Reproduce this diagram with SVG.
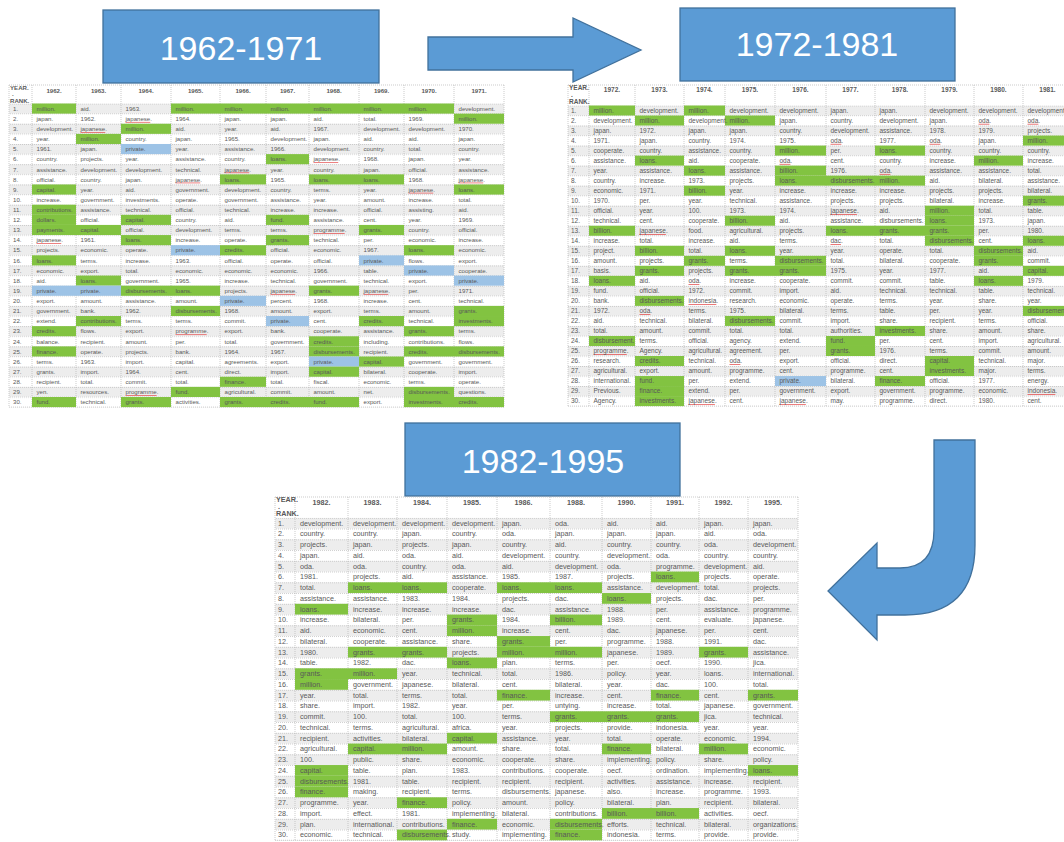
<svg xmlns="http://www.w3.org/2000/svg" width="1064" height="842" viewBox="0 0 1064 842">
<style>
.tb text{font-family:"Liberation Sans",Arial,sans-serif;fill:#595959}
#table-1962 text{font-size:6.1px}
#table-1972 text{font-size:6.5px}
#table-1982 text{font-size:7.2px}
.tb text.r{font-size:8px}
.tb text.h{font-weight:bold;text-anchor:middle}
.tb text.k{font-size:5px;font-weight:bold}
.g{fill:#82c341}
.b{fill:#9dc3e6}
.u{text-decoration:underline;fill:#e03030;text-decoration-color:#e03030}
.tb text .w{fill:#595959}
.grid{fill:none;stroke:#b4b4b4;stroke-width:0.7;stroke-dasharray:1 1}
.box{fill:#5b9bd5;stroke:#41719c;stroke-width:1.3}
.bt{font-family:"Liberation Sans",Arial,sans-serif;font-size:34px;fill:#fff;text-anchor:middle}
</style>
<defs>
<pattern id="p1" patternUnits="userSpaceOnUse" x="0" y="103.5" width="2" height="20.24"><rect width="2" height="10.12" fill="#ededed"/><rect width="1" height="0.6" fill="#b4b4b4"/><rect y="10.12" width="1" height="0.6" fill="#b4b4b4"/></pattern>
<pattern id="p2" patternUnits="userSpaceOnUse" x="0" y="105.5" width="2" height="20.04"><rect width="2" height="10.02" fill="#ededed"/><rect width="1" height="0.6" fill="#b4b4b4"/><rect y="10.02" width="1" height="0.6" fill="#b4b4b4"/></pattern>
<pattern id="p3" patternUnits="userSpaceOnUse" x="0" y="517.8" width="2" height="21.5"><rect width="2" height="10.75" fill="#ededed"/><rect width="1" height="0.6" fill="#b4b4b4"/><rect y="10.75" width="1" height="0.6" fill="#b4b4b4"/></pattern>
</defs>
<rect width="1064" height="842" fill="#fff"/>

<g id="connectors">
<polygon class="box" points="428,37 573,37 573,18 641,50 573,82 573,70 428,70"/>
<path class="box" d="M934 440H975V545Q975 615 905 615H877V640L828 591L877 543V568H900Q934 568 934 530Z"/>
</g>

<g id="box-1962"><rect class="box" x="103" y="10" width="276" height="73"/><text class="bt" x="241" y="60">1962-1971</text></g>
<g id="box-1972"><rect class="box" x="680" y="8" width="275" height="73"/><text class="bt" x="817" y="56">1972-1981</text></g>
<g id="box-1982"><rect class="box" x="405" y="423" width="275" height="73"/><text class="bt" x="543" y="473">1982-1995</text></g>

<g id="table-1962" class="tb">
<rect x="9" y="85" width="495" height="18.5" fill="#fff"/>
<rect x="9" y="103.5" width="495" height="303.6" fill="url(#p1)"/>
<path class="grid" d="M9 85V407.1M32 85V407.1M76 85V407.1M121 85V407.1M171 85V407.1M220 85V407.1M266 85V407.1M309 85V407.1M359 85V407.1M404 85V407.1M454 85V407.1M504 85V407.1M9 85H504M9 407.1H504"/>
<text class="k" x="10" y="90">YEAR.</text><text class="k" x="12" y="96">.</text><text class="k" x="10" y="102.5">RANK.</text>
<g transform="translate(0,92.5)"><text class="h" x="54">1962.</text><text class="h" x="98.5">1963.</text><text class="h" x="146">1964.</text><text class="h" x="195.5">1965.</text><text class="h" x="243">1966.</text><text class="h" x="287.5">1967.</text><text class="h" x="334">1968.</text><text class="h" x="381.5">1969.</text><text class="h" x="429">1970.</text><text class="h" x="479">1971.</text></g>
<g transform="translate(0,110.8)"><rect class="g" x="32" y="-7.3" width="44" height="10.12"/><rect class="g" x="171" y="-7.3" width="283" height="10.12"/><text class="r" x="13">1.</text><text x="36.5">million.</text><text x="80.5">aid.</text><text x="125.5">1963.</text><text x="175.5">million.</text><text x="224.5">million.</text><text x="270.5">million.</text><text x="313.5">million.</text><text x="363.5">million.</text><text x="408.5">million.</text><text x="458.5">development.</text></g>
<g transform="translate(0,120.92)"><rect class="g" x="454" y="-7.3" width="50" height="10.12"/><text class="r" x="13">2.</text><text x="36.5">japan.</text><text x="80.5">1962.</text><text x="125.5"><tspan class="u"><tspan class="w">japanese</tspan></tspan>.</text><text x="175.5">1964.</text><text x="224.5">japan.</text><text x="270.5">japan.</text><text x="313.5">aid.</text><text x="363.5">total.</text><text x="408.5">1969.</text><text x="458.5">million.</text></g>
<g transform="translate(0,131.04)"><rect class="g" x="121" y="-7.3" width="50" height="10.12"/><text class="r" x="13">3.</text><text x="36.5">development.</text><text x="80.5"><tspan class="u"><tspan class="w">japanese</tspan></tspan>.</text><text x="125.5">million.</text><text x="175.5">aid.</text><text x="224.5">year.</text><text x="270.5">aid.</text><text x="313.5">1967.</text><text x="363.5">development.</text><text x="408.5">development.</text><text x="458.5">1970.</text></g>
<g transform="translate(0,141.16)"><rect class="g" x="76" y="-7.3" width="45" height="10.12"/><text class="r" x="13">4.</text><text x="36.5">year.</text><text x="80.5">million.</text><text x="125.5">country.</text><text x="175.5">japan.</text><text x="224.5">1965.</text><text x="270.5">development.</text><text x="313.5">japan.</text><text x="363.5">aid.</text><text x="408.5">aid.</text><text x="458.5">japan.</text></g>
<g transform="translate(0,151.28)"><rect class="b" x="121" y="-7.3" width="50" height="10.12"/><text class="r" x="13">5.</text><text x="36.5">1961.</text><text x="80.5">japan.</text><text x="125.5">private.</text><text x="175.5">year.</text><text x="224.5">assistance.</text><text x="270.5">1966.</text><text x="313.5">development.</text><text x="363.5">country.</text><text x="408.5">total.</text><text x="458.5">country.</text></g>
<g transform="translate(0,161.4)"><rect class="g" x="266" y="-7.3" width="43" height="10.12"/><text class="r" x="13">6.</text><text x="36.5">country.</text><text x="80.5">projects.</text><text x="125.5">year.</text><text x="175.5">assistance.</text><text x="224.5">country.</text><text x="270.5">loans.</text><text x="313.5"><tspan class="u"><tspan class="w">japanese</tspan></tspan>.</text><text x="363.5">1968.</text><text x="408.5">japan.</text><text x="458.5">year.</text></g>
<g transform="translate(0,171.52)"><text class="r" x="13">7.</text><text x="36.5">assistance.</text><text x="80.5">development.</text><text x="125.5">development.</text><text x="175.5">technical.</text><text x="224.5"><tspan class="u"><tspan class="w">japanese</tspan></tspan>.</text><text x="270.5">year.</text><text x="313.5">country.</text><text x="363.5">japan.</text><text x="408.5">official.</text><text x="458.5">assistance.</text></g>
<g transform="translate(0,181.64)"><rect class="g" x="220" y="-7.3" width="46" height="10.12"/><rect class="g" x="309" y="-7.3" width="95" height="10.12"/><text class="r" x="13">8.</text><text x="36.5">official.</text><text x="80.5">country.</text><text x="125.5">japan.</text><text x="175.5"><tspan class="u"><tspan class="w">japanese</tspan></tspan>.</text><text x="224.5">loans.</text><text x="270.5">1965.</text><text x="313.5">loans.</text><text x="363.5">loans.</text><text x="408.5">1968.</text><text x="458.5"><tspan class="u"><tspan class="w">japanese</tspan></tspan>.</text></g>
<g transform="translate(0,191.76)"><rect class="g" x="32" y="-7.3" width="44" height="10.12"/><rect class="g" x="454" y="-7.3" width="50" height="10.12"/><text class="r" x="13">9.</text><text x="36.5">capital.</text><text x="80.5">year.</text><text x="125.5">aid.</text><text x="175.5">government.</text><text x="224.5">development.</text><text x="270.5">country.</text><text x="313.5">terms.</text><text x="363.5">year.</text><text x="408.5"><tspan class="u"><tspan class="w">japanese</tspan></tspan>.</text><text x="458.5">loans.</text></g>
<g transform="translate(0,201.88)"><text class="r" x="13">10.</text><text x="36.5">increase.</text><text x="80.5">government.</text><text x="125.5">investments.</text><text x="175.5">operate.</text><text x="224.5">government.</text><text x="270.5">assistance.</text><text x="313.5">year.</text><text x="363.5">amount.</text><text x="408.5">increase.</text><text x="458.5">total.</text></g>
<g transform="translate(0,212)"><rect class="g" x="32" y="-7.3" width="44" height="10.12"/><text class="r" x="13">11.</text><text x="36.5">contributions.</text><text x="80.5">assistance.</text><text x="125.5">technical.</text><text x="175.5">official.</text><text x="224.5">technical.</text><text x="270.5">increase.</text><text x="313.5">increase.</text><text x="363.5">official.</text><text x="408.5">assisting.</text><text x="458.5">aid.</text></g>
<g transform="translate(0,222.12)"><rect class="g" x="32" y="-7.3" width="44" height="10.12"/><rect class="g" x="121" y="-7.3" width="50" height="10.12"/><rect class="g" x="266" y="-7.3" width="43" height="10.12"/><text class="r" x="13">12.</text><text x="36.5">dollars.</text><text x="80.5">official.</text><text x="125.5">capital.</text><text x="175.5">country.</text><text x="224.5">aid.</text><text x="270.5">fund.</text><text x="313.5">assistance.</text><text x="363.5">cent.</text><text x="408.5">year.</text><text x="458.5">1969.</text></g>
<g transform="translate(0,232.24)"><rect class="g" x="32" y="-7.3" width="89" height="10.12"/><rect class="g" x="359" y="-7.3" width="45" height="10.12"/><text class="r" x="13">13.</text><text x="36.5">payments.</text><text x="80.5">capital.</text><text x="125.5">official.</text><text x="175.5">development.</text><text x="224.5">terms.</text><text x="270.5">terms.</text><text x="313.5"><tspan class="u"><tspan class="w">programme</tspan></tspan>.</text><text x="363.5">grants.</text><text x="408.5">country.</text><text x="458.5">official.</text></g>
<g transform="translate(0,242.36)"><rect class="g" x="121" y="-7.3" width="50" height="10.12"/><rect class="g" x="266" y="-7.3" width="43" height="10.12"/><text class="r" x="13">14.</text><text x="36.5"><tspan class="u"><tspan class="w">japanese</tspan></tspan>.</text><text x="80.5">1961.</text><text x="125.5">loans.</text><text x="175.5">increase.</text><text x="224.5">operate.</text><text x="270.5">grants.</text><text x="313.5">technical.</text><text x="363.5">per.</text><text x="408.5">economic.</text><text x="458.5">increase.</text></g>
<g transform="translate(0,252.48)"><rect class="b" x="171" y="-7.3" width="49" height="10.12"/><rect class="g" x="220" y="-7.3" width="46" height="10.12"/><rect class="g" x="404" y="-7.3" width="50" height="10.12"/><text class="r" x="13">15.</text><text x="36.5">projects.</text><text x="80.5">economic.</text><text x="125.5">operate.</text><text x="175.5">private.</text><text x="224.5">credits.</text><text x="270.5">official.</text><text x="313.5">economic.</text><text x="363.5">1967.</text><text x="408.5">loans.</text><text x="458.5">economic.</text></g>
<g transform="translate(0,262.6)"><rect class="g" x="32" y="-7.3" width="44" height="10.12"/><rect class="b" x="359" y="-7.3" width="45" height="10.12"/><text class="r" x="13">16.</text><text x="36.5">loans.</text><text x="80.5">terms.</text><text x="125.5">increase.</text><text x="175.5">1963.</text><text x="224.5">official.</text><text x="270.5">operate.</text><text x="313.5">official.</text><text x="363.5">private.</text><text x="408.5">flows.</text><text x="458.5">export.</text></g>
<g transform="translate(0,272.72)"><rect class="b" x="404" y="-7.3" width="50" height="10.12"/><text class="r" x="13">17.</text><text x="36.5">economic.</text><text x="80.5">export.</text><text x="125.5">total.</text><text x="175.5">economic.</text><text x="224.5">economic.</text><text x="270.5">economic.</text><text x="313.5">1966.</text><text x="363.5">table.</text><text x="408.5">private.</text><text x="458.5">cooperate.</text></g>
<g transform="translate(0,282.84)"><rect class="g" x="76" y="-7.3" width="45" height="10.12"/><rect class="b" x="454" y="-7.3" width="50" height="10.12"/><text class="r" x="13">18.</text><text x="36.5">aid.</text><text x="80.5">loans.</text><text x="125.5">government.</text><text x="175.5">1965.</text><text x="224.5">increase.</text><text x="270.5">technical.</text><text x="313.5">government.</text><text x="363.5">technical.</text><text x="408.5">export.</text><text x="458.5">private.</text></g>
<g transform="translate(0,292.96)"><rect class="b" x="32" y="-7.3" width="89" height="10.12"/><rect class="g" x="121" y="-7.3" width="99" height="10.12"/><rect class="g" x="309" y="-7.3" width="50" height="10.12"/><text class="r" x="13">19.</text><text x="36.5">private.</text><text x="80.5">private.</text><text x="125.5">disbursements.</text><text x="175.5">loans.</text><text x="224.5">projects.</text><text x="270.5"><tspan class="u"><tspan class="w">japanese</tspan></tspan>.</text><text x="313.5">grants.</text><text x="363.5"><tspan class="u"><tspan class="w">japanese</tspan></tspan>.</text><text x="408.5">per.</text><text x="458.5">1971.</text></g>
<g transform="translate(0,303.08)"><rect class="b" x="220" y="-7.3" width="46" height="10.12"/><text class="r" x="13">20.</text><text x="36.5">export.</text><text x="80.5">amount.</text><text x="125.5">assistance.</text><text x="175.5">amount.</text><text x="224.5">private.</text><text x="270.5">percent.</text><text x="313.5">1968.</text><text x="363.5">increase.</text><text x="408.5">cent.</text><text x="458.5">technical.</text></g>
<g transform="translate(0,313.2)"><rect class="g" x="171" y="-7.3" width="49" height="10.12"/><rect class="g" x="454" y="-7.3" width="50" height="10.12"/><text class="r" x="13">21.</text><text x="36.5">government.</text><text x="80.5">bank.</text><text x="125.5">1962.</text><text x="175.5">disbursements.</text><text x="224.5">1968.</text><text x="270.5">amount.</text><text x="313.5">export.</text><text x="363.5">terms.</text><text x="408.5">amount.</text><text x="458.5">grants.</text></g>
<g transform="translate(0,323.32)"><rect class="g" x="76" y="-7.3" width="45" height="10.12"/><rect class="b" x="266" y="-7.3" width="43" height="10.12"/><rect class="g" x="359" y="-7.3" width="45" height="10.12"/><rect class="g" x="454" y="-7.3" width="50" height="10.12"/><text class="r" x="13">22.</text><text x="36.5">extend.</text><text x="80.5">contributions.</text><text x="125.5">terms.</text><text x="175.5">terms.</text><text x="224.5">commit.</text><text x="270.5">private.</text><text x="313.5">cent.</text><text x="363.5">credits.</text><text x="408.5">technical.</text><text x="458.5">investments.</text></g>
<g transform="translate(0,333.44)"><rect class="g" x="32" y="-7.3" width="44" height="10.12"/><rect class="g" x="404" y="-7.3" width="50" height="10.12"/><text class="r" x="13">23.</text><text x="36.5">credits.</text><text x="80.5">flows.</text><text x="125.5">export.</text><text x="175.5"><tspan class="u"><tspan class="w">programme</tspan></tspan>.</text><text x="224.5">export.</text><text x="270.5">bank.</text><text x="313.5">cooperate.</text><text x="363.5">assistance.</text><text x="408.5">grants.</text><text x="458.5">terms.</text></g>
<g transform="translate(0,343.56)"><rect class="g" x="309" y="-7.3" width="50" height="10.12"/><text class="r" x="13">24.</text><text x="36.5">balance.</text><text x="80.5">recipient.</text><text x="125.5">amount.</text><text x="175.5">per.</text><text x="224.5">total.</text><text x="270.5">government.</text><text x="313.5">credits.</text><text x="363.5">including.</text><text x="408.5">contributions.</text><text x="458.5">flows.</text></g>
<g transform="translate(0,353.68)"><rect class="g" x="32" y="-7.3" width="44" height="10.12"/><rect class="g" x="309" y="-7.3" width="50" height="10.12"/><rect class="g" x="404" y="-7.3" width="100" height="10.12"/><text class="r" x="13">25.</text><text x="36.5">finance.</text><text x="80.5">operate.</text><text x="125.5">projects.</text><text x="175.5">bank.</text><text x="224.5">1964.</text><text x="270.5">1967.</text><text x="313.5">disbursements.</text><text x="363.5">recipient.</text><text x="408.5">credits.</text><text x="458.5">disbursements.</text></g>
<g transform="translate(0,363.8)"><rect class="b" x="309" y="-7.3" width="50" height="10.12"/><rect class="g" x="359" y="-7.3" width="45" height="10.12"/><text class="r" x="13">26.</text><text x="36.5">terms.</text><text x="80.5">1963.</text><text x="125.5">import.</text><text x="175.5">capital.</text><text x="224.5">agreements.</text><text x="270.5">export.</text><text x="313.5">private.</text><text x="363.5">capital.</text><text x="408.5">government.</text><text x="458.5">government.</text></g>
<g transform="translate(0,373.92)"><rect class="g" x="309" y="-7.3" width="50" height="10.12"/><text class="r" x="13">27.</text><text x="36.5">grants.</text><text x="80.5">import.</text><text x="125.5">1964.</text><text x="175.5">cent.</text><text x="224.5">direct.</text><text x="270.5">import.</text><text x="313.5">capital.</text><text x="363.5">bilateral.</text><text x="408.5">cooperate.</text><text x="458.5">import.</text></g>
<g transform="translate(0,384.04)"><rect class="g" x="220" y="-7.3" width="46" height="10.12"/><text class="r" x="13">28.</text><text x="36.5">recipient.</text><text x="80.5">total.</text><text x="125.5">commit.</text><text x="175.5">total.</text><text x="224.5">finance.</text><text x="270.5">total.</text><text x="313.5">fiscal.</text><text x="363.5">economic.</text><text x="408.5">terms.</text><text x="458.5">operate.</text></g>
<g transform="translate(0,394.16)"><rect class="g" x="171" y="-7.3" width="49" height="10.12"/><rect class="g" x="404" y="-7.3" width="50" height="10.12"/><text class="r" x="13">29.</text><text x="36.5">yen.</text><text x="80.5">resources.</text><text x="125.5"><tspan class="u"><tspan class="w">programme</tspan></tspan>.</text><text x="175.5">fund.</text><text x="224.5">agricultural.</text><text x="270.5">commit.</text><text x="313.5">amount.</text><text x="363.5">net.</text><text x="408.5">disbursements.</text><text x="458.5">questions.</text></g>
<g transform="translate(0,404.28)"><rect class="g" x="32" y="-7.3" width="44" height="10.12"/><rect class="g" x="121" y="-7.3" width="50" height="10.12"/><rect class="g" x="220" y="-7.3" width="139" height="10.12"/><rect class="g" x="404" y="-7.3" width="100" height="10.12"/><text class="r" x="13">30.</text><text x="36.5">fund.</text><text x="80.5">technical.</text><text x="125.5">grants.</text><text x="175.5">activities.</text><text x="224.5">grants.</text><text x="270.5">credits.</text><text x="313.5">fund.</text><text x="363.5">export.</text><text x="408.5">investments.</text><text x="458.5">credits.</text></g>
</g>

<g id="table-1972" class="tb">
<rect x="568" y="85" width="504" height="20.5" fill="#fff"/>
<rect x="568" y="105.5" width="504" height="300.6" fill="url(#p2)"/>
<path class="grid" d="M568 85V406.1M589 85V406.1M635 85V406.1M684 85V406.1M725 85V406.1M775 85V406.1M826 85V406.1M875 85V406.1M925 85V406.1M974 85V406.1M1023 85V406.1M568 85H1072M568 406.1H1072"/>
<text class="k" x="569" y="90">YEAR.</text><text class="k" x="571" y="97">.</text><text class="k" x="569" y="104">RANK.</text>
<g transform="translate(0,92)"><text class="h" x="612">1972.</text><text class="h" x="659.5">1973.</text><text class="h" x="704.5">1974.</text><text class="h" x="750">1975.</text><text class="h" x="800.5">1976.</text><text class="h" x="850.5">1977.</text><text class="h" x="900">1978.</text><text class="h" x="949.5">1979.</text><text class="h" x="998.5">1980.</text><text class="h" x="1047.5">1981.</text></g>
<g transform="translate(0,112.8)"><rect class="g" x="589" y="-7.3" width="46" height="10.02"/><rect class="g" x="684" y="-7.3" width="41" height="10.02"/><text class="r" x="571">1.</text><text x="593.5">million.</text><text x="639.5">development.</text><text x="688.5">million.</text><text x="729.5">development.</text><text x="779.5">development.</text><text x="830.5">japan.</text><text x="879.5">japan.</text><text x="929.5">development.</text><text x="978.5">development.</text><text x="1027.5">development.</text></g>
<g transform="translate(0,122.82)"><rect class="g" x="635" y="-7.3" width="49" height="10.02"/><rect class="g" x="725" y="-7.3" width="50" height="10.02"/><text class="r" x="571">2.</text><text x="593.5">development.</text><text x="639.5">million.</text><text x="688.5">development.</text><text x="729.5">million.</text><text x="779.5">japan.</text><text x="830.5">country.</text><text x="879.5">development.</text><text x="929.5">japan.</text><text x="978.5"><tspan class="u"><tspan class="w">oda</tspan></tspan>.</text><text x="1027.5"><tspan class="u"><tspan class="w">oda</tspan></tspan>.</text></g>
<g transform="translate(0,132.84)"><text class="r" x="571">3.</text><text x="593.5">japan.</text><text x="639.5">1972.</text><text x="688.5">japan.</text><text x="729.5">japan.</text><text x="779.5">country.</text><text x="830.5">development.</text><text x="879.5">assistance.</text><text x="929.5">1978.</text><text x="978.5">1979.</text><text x="1027.5">projects.</text></g>
<g transform="translate(0,142.86)"><rect class="g" x="1023" y="-7.3" width="49" height="10.02"/><text class="r" x="571">4.</text><text x="593.5">1971.</text><text x="639.5">japan.</text><text x="688.5">country.</text><text x="729.5">1974.</text><text x="779.5">1975.</text><text x="830.5"><tspan class="u"><tspan class="w">oda</tspan></tspan>.</text><text x="879.5">1977.</text><text x="929.5"><tspan class="u"><tspan class="w">oda</tspan></tspan>.</text><text x="978.5">japan.</text><text x="1027.5">million.</text></g>
<g transform="translate(0,152.88)"><rect class="g" x="775" y="-7.3" width="51" height="10.02"/><rect class="g" x="875" y="-7.3" width="50" height="10.02"/><text class="r" x="571">5.</text><text x="593.5">cooperate.</text><text x="639.5">country.</text><text x="688.5">assistance.</text><text x="729.5">country.</text><text x="779.5">million.</text><text x="830.5">per.</text><text x="879.5">loans.</text><text x="929.5">country.</text><text x="978.5">country.</text><text x="1027.5">country.</text></g>
<g transform="translate(0,162.9)"><rect class="g" x="635" y="-7.3" width="49" height="10.02"/><rect class="g" x="974" y="-7.3" width="49" height="10.02"/><text class="r" x="571">6.</text><text x="593.5">assistance.</text><text x="639.5">loans.</text><text x="688.5">aid.</text><text x="729.5">cooperate.</text><text x="779.5"><tspan class="u"><tspan class="w">oda</tspan></tspan>.</text><text x="830.5">cent.</text><text x="879.5">country.</text><text x="929.5">increase.</text><text x="978.5">million.</text><text x="1027.5">increase.</text></g>
<g transform="translate(0,172.92)"><rect class="g" x="684" y="-7.3" width="41" height="10.02"/><rect class="g" x="775" y="-7.3" width="51" height="10.02"/><text class="r" x="571">7.</text><text x="593.5">year.</text><text x="639.5">assistance.</text><text x="688.5">loans.</text><text x="729.5">assistance.</text><text x="779.5">billion.</text><text x="830.5">1976.</text><text x="879.5"><tspan class="u"><tspan class="w">oda</tspan></tspan>.</text><text x="929.5">assistance.</text><text x="978.5">assistance.</text><text x="1027.5">total.</text></g>
<g transform="translate(0,182.94)"><rect class="g" x="775" y="-7.3" width="150" height="10.02"/><text class="r" x="571">8.</text><text x="593.5">country.</text><text x="639.5">increase.</text><text x="688.5">1973.</text><text x="729.5">projects.</text><text x="779.5">loans.</text><text x="830.5">disbursements.</text><text x="879.5">million.</text><text x="929.5">aid.</text><text x="978.5">bilateral.</text><text x="1027.5">assistance.</text></g>
<g transform="translate(0,192.96)"><rect class="g" x="684" y="-7.3" width="41" height="10.02"/><text class="r" x="571">9.</text><text x="593.5">economic.</text><text x="639.5">1971.</text><text x="688.5">billion.</text><text x="729.5">year.</text><text x="779.5">increase.</text><text x="830.5">increase.</text><text x="879.5">increase.</text><text x="929.5">projects.</text><text x="978.5">projects.</text><text x="1027.5">bilateral.</text></g>
<g transform="translate(0,202.98)"><rect class="g" x="1023" y="-7.3" width="49" height="10.02"/><text class="r" x="571">10.</text><text x="593.5">1970.</text><text x="639.5">per.</text><text x="688.5">year.</text><text x="729.5">technical.</text><text x="779.5">assistance.</text><text x="830.5">projects.</text><text x="879.5">projects.</text><text x="929.5">bilateral.</text><text x="978.5">increase.</text><text x="1027.5">grants.</text></g>
<g transform="translate(0,213)"><rect class="g" x="925" y="-7.3" width="49" height="10.02"/><text class="r" x="571">11.</text><text x="593.5">official.</text><text x="639.5">year.</text><text x="688.5">100.</text><text x="729.5">1973.</text><text x="779.5">1974.</text><text x="830.5"><tspan class="u"><tspan class="w">japanese</tspan></tspan>.</text><text x="879.5">aid.</text><text x="929.5">million.</text><text x="978.5">total.</text><text x="1027.5">table.</text></g>
<g transform="translate(0,223.02)"><rect class="g" x="725" y="-7.3" width="50" height="10.02"/><rect class="g" x="925" y="-7.3" width="49" height="10.02"/><text class="r" x="571">12.</text><text x="593.5">technical.</text><text x="639.5">cent.</text><text x="688.5">cooperate.</text><text x="729.5">billion.</text><text x="779.5">aid.</text><text x="830.5">assistance.</text><text x="879.5">disbursements.</text><text x="929.5">loans.</text><text x="978.5">1973.</text><text x="1027.5">japan.</text></g>
<g transform="translate(0,233.04)"><rect class="g" x="589" y="-7.3" width="46" height="10.02"/><rect class="g" x="826" y="-7.3" width="148" height="10.02"/><text class="r" x="571">13.</text><text x="593.5">billion.</text><text x="639.5"><tspan class="u"><tspan class="w">japanese</tspan></tspan>.</text><text x="688.5">food.</text><text x="729.5">agricultural.</text><text x="779.5">projects.</text><text x="830.5">loans.</text><text x="879.5">grants.</text><text x="929.5">grants.</text><text x="978.5">per.</text><text x="1027.5">1980.</text></g>
<g transform="translate(0,243.06)"><rect class="g" x="925" y="-7.3" width="49" height="10.02"/><rect class="g" x="1023" y="-7.3" width="49" height="10.02"/><text class="r" x="571">14.</text><text x="593.5">increase.</text><text x="639.5">total.</text><text x="688.5">increase.</text><text x="729.5">aid.</text><text x="779.5">terms.</text><text x="830.5"><tspan class="u"><tspan class="w">dac</tspan></tspan>.</text><text x="879.5">total.</text><text x="929.5">disbursements.</text><text x="978.5">cent.</text><text x="1027.5">loans.</text></g>
<g transform="translate(0,253.08)"><rect class="g" x="635" y="-7.3" width="49" height="10.02"/><rect class="g" x="725" y="-7.3" width="50" height="10.02"/><rect class="g" x="974" y="-7.3" width="49" height="10.02"/><text class="r" x="571">15.</text><text x="593.5">project.</text><text x="639.5">billion.</text><text x="688.5">total.</text><text x="729.5">loans.</text><text x="779.5">year.</text><text x="830.5">year.</text><text x="879.5">operate.</text><text x="929.5">total.</text><text x="978.5">disbursements.</text><text x="1027.5">aid.</text></g>
<g transform="translate(0,263.1)"><rect class="g" x="684" y="-7.3" width="41" height="10.02"/><rect class="g" x="775" y="-7.3" width="51" height="10.02"/><rect class="g" x="974" y="-7.3" width="49" height="10.02"/><text class="r" x="571">16.</text><text x="593.5">amount.</text><text x="639.5">projects.</text><text x="688.5">grants.</text><text x="729.5">terms.</text><text x="779.5">disbursements.</text><text x="830.5">total.</text><text x="879.5">bilateral.</text><text x="929.5">cooperate.</text><text x="978.5">grants.</text><text x="1027.5">commit.</text></g>
<g transform="translate(0,273.12)"><rect class="g" x="635" y="-7.3" width="49" height="10.02"/><rect class="g" x="725" y="-7.3" width="101" height="10.02"/><rect class="g" x="1023" y="-7.3" width="49" height="10.02"/><text class="r" x="571">17.</text><text x="593.5">basis.</text><text x="639.5">grants.</text><text x="688.5">projects.</text><text x="729.5">grants.</text><text x="779.5">grants.</text><text x="830.5">1975.</text><text x="879.5">year.</text><text x="929.5">1977.</text><text x="978.5">aid.</text><text x="1027.5">capital.</text></g>
<g transform="translate(0,283.14)"><rect class="g" x="589" y="-7.3" width="46" height="10.02"/><rect class="g" x="974" y="-7.3" width="49" height="10.02"/><text class="r" x="571">18.</text><text x="593.5">loans.</text><text x="639.5">aid.</text><text x="688.5"><tspan class="u"><tspan class="w">oda</tspan></tspan>.</text><text x="729.5">increase.</text><text x="779.5">cooperate.</text><text x="830.5">commit.</text><text x="879.5">commit.</text><text x="929.5">table.</text><text x="978.5">loans.</text><text x="1027.5">1979.</text></g>
<g transform="translate(0,293.16)"><text class="r" x="571">19.</text><text x="593.5">fund.</text><text x="639.5">official.</text><text x="688.5">1972.</text><text x="729.5">commit.</text><text x="779.5">import.</text><text x="830.5">aid.</text><text x="879.5">technical.</text><text x="929.5">technical.</text><text x="978.5">table.</text><text x="1027.5">technical.</text></g>
<g transform="translate(0,303.18)"><rect class="g" x="635" y="-7.3" width="49" height="10.02"/><text class="r" x="571">20.</text><text x="593.5">bank.</text><text x="639.5">disbursements.</text><text x="688.5"><tspan class="u"><tspan class="w">indonesia</tspan></tspan>.</text><text x="729.5">research.</text><text x="779.5">economic.</text><text x="830.5">operate.</text><text x="879.5">terms.</text><text x="929.5">year.</text><text x="978.5">share.</text><text x="1027.5">year.</text></g>
<g transform="translate(0,313.2)"><rect class="g" x="1023" y="-7.3" width="49" height="10.02"/><text class="r" x="571">21.</text><text x="593.5">1972.</text><text x="639.5"><tspan class="u"><tspan class="w">oda</tspan></tspan>.</text><text x="688.5">terms.</text><text x="729.5">1975.</text><text x="779.5">bilateral.</text><text x="830.5">terms.</text><text x="879.5">table.</text><text x="929.5">per.</text><text x="978.5">year.</text><text x="1027.5">disbursement.</text></g>
<g transform="translate(0,323.22)"><rect class="g" x="725" y="-7.3" width="50" height="10.02"/><text class="r" x="571">22.</text><text x="593.5">aid.</text><text x="639.5">technical.</text><text x="688.5">bilateral.</text><text x="729.5">disbursements.</text><text x="779.5">commit.</text><text x="830.5">import.</text><text x="879.5">share.</text><text x="929.5">recipient.</text><text x="978.5">terms.</text><text x="1027.5">official.</text></g>
<g transform="translate(0,333.24)"><rect class="g" x="875" y="-7.3" width="50" height="10.02"/><text class="r" x="571">23.</text><text x="593.5">total.</text><text x="639.5">amount.</text><text x="688.5">commit.</text><text x="729.5">total.</text><text x="779.5">total.</text><text x="830.5">authorities.</text><text x="879.5">investments.</text><text x="929.5">share.</text><text x="978.5">amount.</text><text x="1027.5">share.</text></g>
<g transform="translate(0,343.26)"><rect class="g" x="589" y="-7.3" width="46" height="10.02"/><rect class="g" x="826" y="-7.3" width="49" height="10.02"/><text class="r" x="571">24.</text><text x="593.5">disbursement.</text><text x="639.5">terms.</text><text x="688.5">official.</text><text x="729.5">agency.</text><text x="779.5">extend.</text><text x="830.5">fund.</text><text x="879.5">per.</text><text x="929.5">cent.</text><text x="978.5">import.</text><text x="1027.5">agricultural.</text></g>
<g transform="translate(0,353.28)"><rect class="g" x="826" y="-7.3" width="49" height="10.02"/><text class="r" x="571">25.</text><text x="593.5"><tspan class="u"><tspan class="w">programme</tspan></tspan>.</text><text x="639.5">Agency.</text><text x="688.5">agricultural.</text><text x="729.5">agreement.</text><text x="779.5">per.</text><text x="830.5">grants.</text><text x="879.5">1976.</text><text x="929.5">terms.</text><text x="978.5">commit.</text><text x="1027.5">amount.</text></g>
<g transform="translate(0,363.3)"><rect class="g" x="635" y="-7.3" width="49" height="10.02"/><rect class="g" x="925" y="-7.3" width="49" height="10.02"/><text class="r" x="571">26.</text><text x="593.5">research.</text><text x="639.5">credits.</text><text x="688.5">technical.</text><text x="729.5"><tspan class="u"><tspan class="w">oda</tspan></tspan>.</text><text x="779.5">export.</text><text x="830.5">official.</text><text x="879.5">direct.</text><text x="929.5">capital.</text><text x="978.5">technical.</text><text x="1027.5">major.</text></g>
<g transform="translate(0,373.32)"><rect class="g" x="925" y="-7.3" width="49" height="10.02"/><text class="r" x="571">27.</text><text x="593.5">agricultural.</text><text x="639.5">export.</text><text x="688.5">amount.</text><text x="729.5">programme.</text><text x="779.5">cent.</text><text x="830.5">programme.</text><text x="879.5">cent.</text><text x="929.5">investments.</text><text x="978.5">major.</text><text x="1027.5">terms.</text></g>
<g transform="translate(0,383.34)"><rect class="g" x="635" y="-7.3" width="49" height="10.02"/><rect class="b" x="775" y="-7.3" width="51" height="10.02"/><rect class="g" x="875" y="-7.3" width="50" height="10.02"/><text class="r" x="571">28.</text><text x="593.5">international.</text><text x="639.5">fund.</text><text x="688.5">per.</text><text x="729.5">extend.</text><text x="779.5">private.</text><text x="830.5">bilateral.</text><text x="879.5">finance.</text><text x="929.5">official.</text><text x="978.5">1977.</text><text x="1027.5">energy.</text></g>
<g transform="translate(0,393.36)"><rect class="g" x="635" y="-7.3" width="49" height="10.02"/><text class="r" x="571">29.</text><text x="593.5">Previous.</text><text x="639.5">finance.</text><text x="688.5">extend.</text><text x="729.5">per.</text><text x="779.5">government.</text><text x="830.5">export.</text><text x="879.5">government.</text><text x="929.5">programme.</text><text x="978.5">economic.</text><text x="1027.5"><tspan class="u"><tspan class="w">indonesia</tspan></tspan>.</text></g>
<g transform="translate(0,403.38)"><rect class="g" x="635" y="-7.3" width="49" height="10.02"/><text class="r" x="571">30.</text><text x="593.5">Agency.</text><text x="639.5">investments.</text><text x="688.5"><tspan class="u"><tspan class="w">japanese</tspan></tspan>.</text><text x="729.5">cent.</text><text x="779.5"><tspan class="u"><tspan class="w">japanese</tspan></tspan>.</text><text x="830.5">may.</text><text x="879.5">programme.</text><text x="929.5">direct.</text><text x="978.5">1980.</text><text x="1027.5">cent.</text></g>
</g>

<g id="table-1982" class="tb">
<rect x="275" y="497" width="523" height="20.8" fill="#fff"/>
<rect x="275" y="517.8" width="523" height="322.5" fill="url(#p3)"/>
<path class="grid" d="M275 497V840.3M295 497V840.3M348 497V840.3M397 497V840.3M447 497V840.3M497 497V840.3M550 497V840.3M602 497V840.3M651 497V840.3M699 497V840.3M748 497V840.3M798 497V840.3M275 497H798M275 840.3H798"/>
<text class="k" x="276" y="502">YEAR.</text><text class="k" x="278" y="509">.</text><text class="k" x="276" y="516">RANK.</text>
<g transform="translate(0,505)"><text class="h" x="321.5">1982.</text><text class="h" x="372.5">1983.</text><text class="h" x="422">1984.</text><text class="h" x="472">1985.</text><text class="h" x="523.5">1986.</text><text class="h" x="576">1988.</text><text class="h" x="626.5">1990.</text><text class="h" x="675">1991.</text><text class="h" x="723.5">1992.</text><text class="h" x="773">1995.</text></g>
<g transform="translate(0,525.6)"><text class="r" x="278">1.</text><text x="300">development.</text><text x="353">development.</text><text x="402">development.</text><text x="452">development.</text><text x="502">japan.</text><text x="555">oda.</text><text x="607">aid.</text><text x="656">aid.</text><text x="704">japan.</text><text x="753">japan.</text></g>
<g transform="translate(0,536.35)"><text class="r" x="278">2.</text><text x="300">country.</text><text x="353">country.</text><text x="402">japan.</text><text x="452">country.</text><text x="502">oda.</text><text x="555">japan.</text><text x="607">japan.</text><text x="656">japan.</text><text x="704">aid.</text><text x="753">oda.</text></g>
<g transform="translate(0,547.1)"><text class="r" x="278">3.</text><text x="300">projects.</text><text x="353">japan.</text><text x="402">projects.</text><text x="452">japan.</text><text x="502">country.</text><text x="555">aid.</text><text x="607">country.</text><text x="656">country.</text><text x="704">oda.</text><text x="753">development.</text></g>
<g transform="translate(0,557.85)"><text class="r" x="278">4.</text><text x="300">japan.</text><text x="353">aid.</text><text x="402">oda.</text><text x="452">aid.</text><text x="502">development.</text><text x="555">country.</text><text x="607">development.</text><text x="656">oda.</text><text x="704">country.</text><text x="753">country.</text></g>
<g transform="translate(0,568.6)"><text class="r" x="278">5.</text><text x="300">oda.</text><text x="353">oda.</text><text x="402">country.</text><text x="452">oda.</text><text x="502">aid.</text><text x="555">development.</text><text x="607">oda.</text><text x="656">programme.</text><text x="704">development.</text><text x="753">aid.</text></g>
<g transform="translate(0,579.35)"><rect class="g" x="651" y="-7.8" width="48" height="10.75"/><text class="r" x="278">6.</text><text x="300">1981.</text><text x="353">projects.</text><text x="402">aid.</text><text x="452">assistance.</text><text x="502">1985.</text><text x="555">1987.</text><text x="607">projects.</text><text x="656">loans.</text><text x="704">projects.</text><text x="753">operate.</text></g>
<g transform="translate(0,590.1)"><rect class="g" x="348" y="-7.8" width="99" height="10.75"/><rect class="g" x="497" y="-7.8" width="105" height="10.75"/><text class="r" x="278">7.</text><text x="300">total.</text><text x="353">loans.</text><text x="402">loans.</text><text x="452">cooperate.</text><text x="502">loans.</text><text x="555">loans.</text><text x="607">assistance.</text><text x="656">development.</text><text x="704">total.</text><text x="753">projects.</text></g>
<g transform="translate(0,600.85)"><rect class="g" x="602" y="-7.8" width="49" height="10.75"/><text class="r" x="278">8.</text><text x="300">assistance.</text><text x="353">assistance.</text><text x="402">1983.</text><text x="452">1984.</text><text x="502">projects.</text><text x="555">dac.</text><text x="607">loans.</text><text x="656">projects.</text><text x="704">dac.</text><text x="753">per.</text></g>
<g transform="translate(0,611.6)"><rect class="g" x="295" y="-7.8" width="53" height="10.75"/><text class="r" x="278">9.</text><text x="300">loans.</text><text x="353">increase.</text><text x="402">increase.</text><text x="452">increase.</text><text x="502">dac.</text><text x="555">assistance.</text><text x="607">1988.</text><text x="656">per.</text><text x="704">assistance.</text><text x="753">programme.</text></g>
<g transform="translate(0,622.35)"><rect class="g" x="447" y="-7.8" width="50" height="10.75"/><rect class="g" x="550" y="-7.8" width="52" height="10.75"/><text class="r" x="278">10.</text><text x="300">increase.</text><text x="353">bilateral.</text><text x="402">per.</text><text x="452">grants.</text><text x="502">1984.</text><text x="555">billion.</text><text x="607">1989.</text><text x="656">cent.</text><text x="704">evaluate.</text><text x="753">japanese.</text></g>
<g transform="translate(0,633.1)"><rect class="g" x="447" y="-7.8" width="50" height="10.75"/><text class="r" x="278">11.</text><text x="300">aid.</text><text x="353">economic.</text><text x="402">cent.</text><text x="452">million.</text><text x="502">increase.</text><text x="555">cent.</text><text x="607">dac.</text><text x="656">japanese.</text><text x="704">per.</text><text x="753">cent.</text></g>
<g transform="translate(0,643.85)"><rect class="g" x="497" y="-7.8" width="53" height="10.75"/><text class="r" x="278">12.</text><text x="300">bilateral.</text><text x="353">cooperate.</text><text x="402">assistance.</text><text x="452">share.</text><text x="502">grants.</text><text x="555">per.</text><text x="607">programme.</text><text x="656">1988.</text><text x="704">1991.</text><text x="753">dac.</text></g>
<g transform="translate(0,654.6)"><rect class="g" x="348" y="-7.8" width="99" height="10.75"/><rect class="g" x="497" y="-7.8" width="105" height="10.75"/><rect class="g" x="699" y="-7.8" width="49" height="10.75"/><text class="r" x="278">13.</text><text x="300">1980.</text><text x="353">grants.</text><text x="402">grants.</text><text x="452">projects.</text><text x="502">million.</text><text x="555">million.</text><text x="607">japanese.</text><text x="656">1989.</text><text x="704">grants.</text><text x="753">assistance.</text></g>
<g transform="translate(0,665.35)"><rect class="g" x="447" y="-7.8" width="50" height="10.75"/><text class="r" x="278">14.</text><text x="300">table.</text><text x="353">1982.</text><text x="402">dac.</text><text x="452">loans.</text><text x="502">plan.</text><text x="555">terms.</text><text x="607">per.</text><text x="656">oecf.</text><text x="704">1990.</text><text x="753">jica.</text></g>
<g transform="translate(0,676.1)"><rect class="g" x="295" y="-7.8" width="102" height="10.75"/><text class="r" x="278">15.</text><text x="300">grants.</text><text x="353">million.</text><text x="402">year.</text><text x="452">technical.</text><text x="502">total.</text><text x="555">1986.</text><text x="607">policy.</text><text x="656">year.</text><text x="704">loans.</text><text x="753">international.</text></g>
<g transform="translate(0,686.85)"><rect class="g" x="295" y="-7.8" width="53" height="10.75"/><text class="r" x="278">16.</text><text x="300">million.</text><text x="353">government.</text><text x="402">japanese.</text><text x="452">bilateral.</text><text x="502">cent.</text><text x="555">bilateral.</text><text x="607">year.</text><text x="656">dac.</text><text x="704">100.</text><text x="753">total.</text></g>
<g transform="translate(0,697.6)"><rect class="g" x="497" y="-7.8" width="53" height="10.75"/><rect class="g" x="651" y="-7.8" width="48" height="10.75"/><rect class="g" x="748" y="-7.8" width="50" height="10.75"/><text class="r" x="278">17.</text><text x="300">year.</text><text x="353">total.</text><text x="402">terms.</text><text x="452">total.</text><text x="502">finance.</text><text x="555">increase.</text><text x="607">cent.</text><text x="656">finance.</text><text x="704">cent.</text><text x="753">grants.</text></g>
<g transform="translate(0,708.35)"><text class="r" x="278">18.</text><text x="300">share.</text><text x="353">import.</text><text x="402">1982.</text><text x="452">year.</text><text x="502">per.</text><text x="555">untying.</text><text x="607">increase.</text><text x="656">total.</text><text x="704">japanese.</text><text x="753">government.</text></g>
<g transform="translate(0,719.1)"><rect class="g" x="550" y="-7.8" width="149" height="10.75"/><text class="r" x="278">19.</text><text x="300">commit.</text><text x="353">100.</text><text x="402">total.</text><text x="452">100.</text><text x="502">terms.</text><text x="555">grants.</text><text x="607">grants.</text><text x="656">grants.</text><text x="704">jica.</text><text x="753">technical.</text></g>
<g transform="translate(0,729.85)"><text class="r" x="278">20.</text><text x="300">technical.</text><text x="353">terms.</text><text x="402">agricultural.</text><text x="452">africa.</text><text x="502">year.</text><text x="555">projects.</text><text x="607">provide.</text><text x="656">indonesia.</text><text x="704">year.</text><text x="753">year.</text></g>
<g transform="translate(0,740.6)"><rect class="g" x="447" y="-7.8" width="50" height="10.75"/><text class="r" x="278">21.</text><text x="300">recipient.</text><text x="353">activities.</text><text x="402">bilateral.</text><text x="452">capital.</text><text x="502">assistance.</text><text x="555">year.</text><text x="607">total.</text><text x="656">operate.</text><text x="704">economic.</text><text x="753">1994.</text></g>
<g transform="translate(0,751.35)"><rect class="g" x="348" y="-7.8" width="99" height="10.75"/><rect class="g" x="602" y="-7.8" width="49" height="10.75"/><rect class="g" x="699" y="-7.8" width="49" height="10.75"/><text class="r" x="278">22.</text><text x="300">agricultural.</text><text x="353">capital.</text><text x="402">million.</text><text x="452">amount.</text><text x="502">share.</text><text x="555">total.</text><text x="607">finance.</text><text x="656">bilateral.</text><text x="704">million.</text><text x="753">economic.</text></g>
<g transform="translate(0,762.1)"><text class="r" x="278">23.</text><text x="300">100.</text><text x="353">public.</text><text x="402">share.</text><text x="452">economic.</text><text x="502">cooperate.</text><text x="555">share.</text><text x="607">implementing.</text><text x="656">policy.</text><text x="704">share.</text><text x="753">policy.</text></g>
<g transform="translate(0,772.85)"><rect class="g" x="295" y="-7.8" width="53" height="10.75"/><rect class="g" x="748" y="-7.8" width="50" height="10.75"/><text class="r" x="278">24.</text><text x="300">capital.</text><text x="353">table.</text><text x="402">plan.</text><text x="452">1983.</text><text x="502">contributions.</text><text x="555">cooperate.</text><text x="607">oecf.</text><text x="656">ordination.</text><text x="704">implementing.</text><text x="753">loans.</text></g>
<g transform="translate(0,783.6)"><rect class="g" x="295" y="-7.8" width="53" height="10.75"/><text class="r" x="278">25.</text><text x="300">disbursements.</text><text x="353">1981.</text><text x="402">table.</text><text x="452">recipient.</text><text x="502">recipient.</text><text x="555">recipient.</text><text x="607">activities.</text><text x="656">assistance.</text><text x="704">increase.</text><text x="753">recipient.</text></g>
<g transform="translate(0,794.35)"><rect class="g" x="295" y="-7.8" width="53" height="10.75"/><text class="r" x="278">26.</text><text x="300">finance.</text><text x="353">making.</text><text x="402">recipient.</text><text x="452">terms.</text><text x="502">disbursements.</text><text x="555">japanese.</text><text x="607">also.</text><text x="656">increase.</text><text x="704">programme.</text><text x="753">1993.</text></g>
<g transform="translate(0,805.1)"><rect class="g" x="397" y="-7.8" width="50" height="10.75"/><text class="r" x="278">27.</text><text x="300">programme.</text><text x="353">year.</text><text x="402">finance.</text><text x="452">policy.</text><text x="502">amount.</text><text x="555">policy.</text><text x="607">bilateral.</text><text x="656">plan.</text><text x="704">recipient.</text><text x="753">bilateral.</text></g>
<g transform="translate(0,815.85)"><rect class="g" x="602" y="-7.8" width="97" height="10.75"/><text class="r" x="278">28.</text><text x="300">import.</text><text x="353">effect.</text><text x="402">1981.</text><text x="452">implementing.</text><text x="502">bilateral.</text><text x="555">contributions.</text><text x="607">billion.</text><text x="656">billion.</text><text x="704">activities.</text><text x="753">oecf.</text></g>
<g transform="translate(0,826.6)"><rect class="g" x="447" y="-7.8" width="50" height="10.75"/><rect class="g" x="550" y="-7.8" width="52" height="10.75"/><text class="r" x="278">29.</text><text x="300">plan.</text><text x="353">international.</text><text x="402">contributions.</text><text x="452">finance.</text><text x="502">economic.</text><text x="555">disbursements.</text><text x="607">efforts.</text><text x="656">technical.</text><text x="704">bilateral.</text><text x="753">organizations.</text></g>
<g transform="translate(0,837.35)"><rect class="g" x="397" y="-7.8" width="50" height="10.75"/><rect class="g" x="550" y="-7.8" width="52" height="10.75"/><text class="r" x="278">30.</text><text x="300">economic.</text><text x="353">technical.</text><text x="402">disbursements.</text><text x="452">study.</text><text x="502">implementing.</text><text x="555">finance.</text><text x="607">indonesia.</text><text x="656">terms.</text><text x="704">provide.</text><text x="753">provide.</text></g>
</g>
</svg>
